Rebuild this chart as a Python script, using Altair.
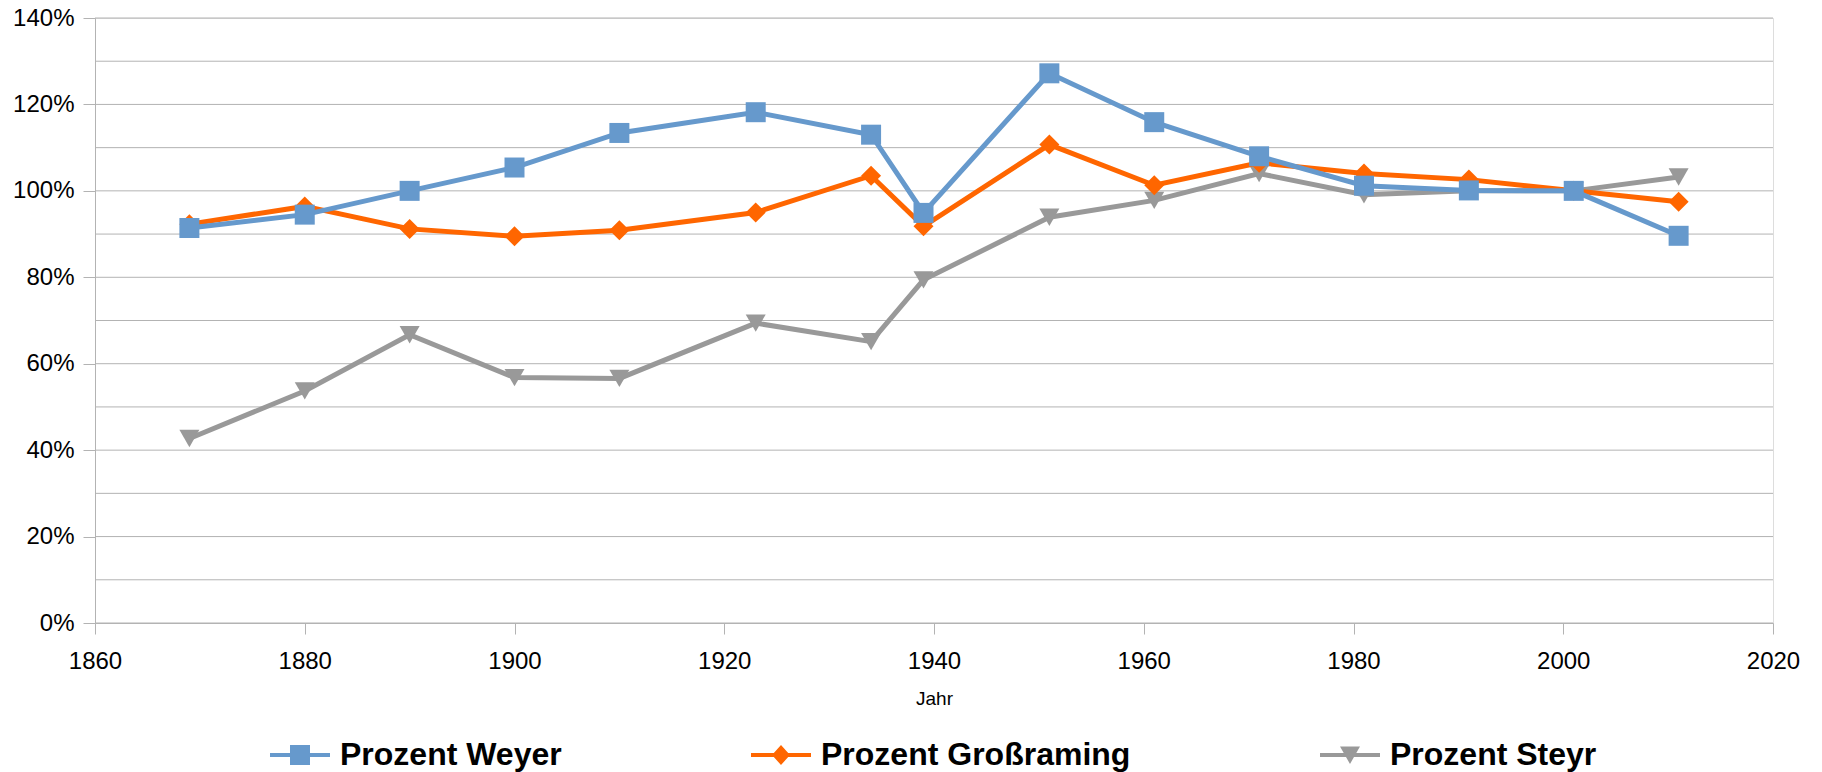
import altair as alt
import pandas as pd

# ---- data ----
years = [1869, 1880, 1890, 1900, 1910, 1923, 1934, 1939, 1951, 1961, 1971, 1981, 1991, 2001, 2011]
weyer = [91.4, 94.5, 100.0, 105.4, 113.4, 118.2, 113.0, 94.9, 127.2, 115.9, 108.0, 101.2, 100.1, 100.0, 89.6]
grossraming = [92.3, 96.4, 91.2, 89.5, 90.9, 95.0, 103.5, 91.8, 110.7, 101.3, 106.5, 104.0, 102.6, 100.0, 97.5]
steyr = [42.7, 53.7, 66.7, 56.8, 56.6, 69.4, 65.1, 79.4, 93.9, 97.8, 104.0, 99.1, 100.0, 100.0, 103.2]

series_names = ["Prozent Weyer", "Prozent Großraming", "Prozent Steyr"]
colors = ["#6699CC", "#FF6600", "#999999"]
shapes = ["square", "diamond", "triangle-down"]
x_ticks = [1860, 1880, 1900, 1920, 1940, 1960, 1980, 2000, 2020]
y_label_ticks = [0, 20, 40, 60, 80, 100, 120, 140]
y_grid = [0, 10, 20, 30, 40, 50, 60, 70, 80, 90, 100, 110, 120, 130, 140]

rows = []
for name, vals in zip(series_names, [weyer, grossraming, steyr]):
    for yr, v in zip(years, vals):
        rows.append({"Jahr": yr, "Wert": v, "Serie": name})
df = pd.DataFrame(rows)
grid_df = pd.DataFrame({"Wert": y_grid})

GRID = "#b3b3b3"
FONT = "Liberation Sans"

# legend symbols: line segment + marker
line_part = "M-1,-0.07L1,-0.07L1,0.07L-1,0.07Z"
sq = "M-0.333,-0.333L0.333,-0.333L0.333,0.333L-0.333,0.333Z"
dm = "M0,-0.333L0.3,0L0,0.333L-0.3,0Z"
tr = "M-0.333,-0.28L0.333,-0.28L0,0.3Z"
shape_expr = (
    "datum.value === 'Prozent Weyer' ? '" + line_part + sq + "' : "
    "(datum.value === 'Prozent Großraming' ? '" + line_part + dm + "' : '" + line_part + tr + "')"
)

legend = alt.Legend(
    title=None,
    orient="none",
    legendX=175,
    legendY=707,
    direction="horizontal",
    symbolSize=3600,
    symbolType={"expr": shape_expr},
    symbolFillColor={"expr": "scale('color', datum.value)"},
    symbolStrokeWidth=0,
    symbolOpacity=1,
    labelFont=FONT,
    labelFontSize=32,
    labelFontWeight="bold",
    labelColor="black",
    labelOffset=10,
    labelLimit=600,
    columnPadding=189,
    padding=0,
)

x_enc = alt.X(
    "Jahr:Q",
    scale=alt.Scale(domain=[1860, 2020], nice=False, zero=False),
    axis=alt.Axis(
        values=x_ticks, format="d", title="Jahr", grid=False,
        domainColor=GRID, tickColor=GRID, tickSize=11,
        labelFont=FONT, labelFontSize=24, labelColor="black", labelPadding=15,
        titleFont=FONT, titleFontSize=19, titleFontWeight="normal", titleColor="black",
        titlePadding=16, labelFlush=False,
    ),
)
y_enc = alt.Y(
    "Wert:Q",
    scale=alt.Scale(domain=[0, 140], nice=False, zero=True),
    axis=alt.Axis(
        values=y_label_ticks, labelExpr="datum.value + '%'", title=None, grid=False,
        domainColor=GRID, tickColor=GRID, tickSize=12,
        labelFont=FONT, labelFontSize=24, labelColor="black", labelPadding=9,
    ),
)
color_enc = alt.Color("Serie:N", scale=alt.Scale(domain=series_names, range=colors), legend=legend)

grid = alt.Chart(grid_df).mark_rule(color=GRID, strokeWidth=1).encode(y=y_enc)

layers = [grid]
for name, shp in [("Prozent Steyr", "triangle-down"), ("Prozent Großraming", "diamond"), ("Prozent Weyer", "square")]:
    base = alt.Chart(df).transform_filter(alt.datum.Serie == name)
    layers.append(base.mark_line(strokeWidth=5).encode(x=x_enc, y=y_enc, color=color_enc))
    layers.append(
        base.mark_point(filled=True, size=400, opacity=1, shape=shp).encode(
            x=x_enc, y=y_enc, color=color_enc
        )
    )

chart = (
    alt.layer(*layers)
    .properties(
        width=1678,
        height=605,
        padding={"left": 87, "top": 10, "right": 30, "bottom": 149},
        autosize=alt.AutoSizeParams(type="none"),
    )
    .configure_view(stroke=GRID, strokeWidth=1)
    .configure(font=FONT)
)

chart.save("out.html", embed_options={"renderer": "svg", "actions": False})
